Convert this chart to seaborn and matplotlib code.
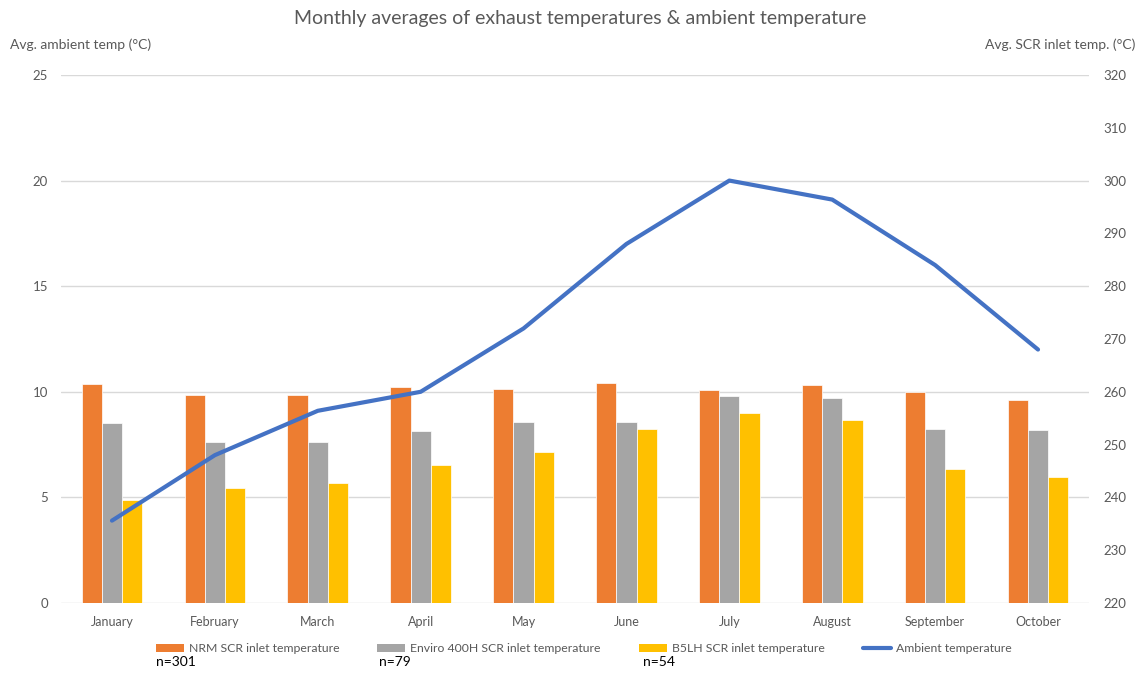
import matplotlib
matplotlib.use("Agg")
import matplotlib.pyplot as plt
import seaborn as sns
import pandas as pd
from matplotlib.patches import Patch
from matplotlib.lines import Line2D
from matplotlib.ticker import MultipleLocator, FormatStrFormatter

months = ["January", "February", "March", "April", "May", "June",
          "July", "August", "September", "October"]
nrm = [261.4, 259.3, 259.3, 261.0, 260.6, 261.6, 260.4, 261.3, 259.9, 258.4]
enviro = [254.0, 250.4, 250.4, 252.6, 254.2, 254.2, 259.2, 258.9, 252.9, 252.8]
b5lh = [239.5, 241.7, 242.7, 246.1, 248.6, 252.9, 255.9, 254.6, 245.3, 243.9]
ambient = [3.9, 7.0, 9.1, 10.0, 13.0, 17.0, 20.0, 19.1, 16.0, 12.0]

series_names = ["NRM SCR inlet temperature", "Enviro 400H SCR inlet temperature",
                "B5LH SCR inlet temperature"]
line_name = "Ambient temperature"
n_labels = ["n=301", "n=79", "n=54"]
colors = ["#ED7D31", "#A5A5A5", "#FFC000"]
line_color = "#4472C4"
text_color = "#595959"

sns.set_theme(style="white")
plt.rcParams["font.family"] = ["Lato", "DejaVu Sans"]

df = pd.DataFrame({
    "month": months * 3,
    "series": [series_names[0]] * 10 + [series_names[1]] * 10 + [series_names[2]] * 10,
    "value": nrm + enviro + b5lh,
})

fig = plt.figure(figsize=(11.42, 6.73), dpi=100)
ax = fig.add_axes([0.053, 0.104, 0.901, 0.7846])

sns.barplot(data=df, x="month", y="value", hue="series", order=months,
            hue_order=series_names, palette=colors, width=0.59, gap=0,
            saturation=1, edgecolor="white", linewidth=0.5, ax=ax, legend=False)
ax.set_xlim(-0.5, 9.5)
ax.set_xlabel("")
ax.set_ylabel("")

ax2 = ax.twinx()
sns.lineplot(x=list(range(len(months))), y=ambient, color=line_color, linewidth=3,
             ax=ax2, legend=False)
ax2.set_ylim(0, 25)
ax2.set_yticks(range(0, 26, 5))
ax2.yaxis.tick_left()
ax2.set_ylabel("")
ax2.set_xlim(-0.5, 9.5)
ax2.tick_params(axis="y", length=0, pad=9, labelsize=9.5, labelcolor=text_color)

# bar axis ticks on the right
ax.set_ylim(220, 320)
ax.yaxis.set_major_locator(MultipleLocator(20))
ax.yaxis.set_minor_locator(MultipleLocator(10))
ax.yaxis.set_major_formatter(FormatStrFormatter("%d"))
ax.yaxis.set_minor_formatter(FormatStrFormatter("%d"))
ax.yaxis.tick_right()
ax.yaxis.set_label_position("right")
ax.tick_params(axis="y", which="both", length=0, pad=10, labelsize=9.5,
               labelcolor=text_color, left=False, labelleft=False,
               right=True, labelright=True)
ax.tick_params(axis="x", length=0, pad=9, labelsize=9, labelcolor=text_color)
ax.grid(axis="y", which="major", color="#D9D9D9", linewidth=1)
ax.grid(axis="y", which="minor", visible=False)
ax.grid(axis="x", visible=False)
ax.set_axisbelow(True)
for a in (ax, ax2):
    for s in a.spines.values():
        s.set_visible(False)

fig.text(0.508, 0.972, "Monthly averages of exhaust temperatures & ambient temperature",
         ha="center", va="center", fontsize=14, color=text_color)
fig.text(0.009, 0.934, "Avg. ambient temp (\u00b0C)", ha="left", va="center",
         fontsize=10, color=text_color)
fig.text(0.994, 0.934, "Avg. SCR inlet temp. (\u00b0C)", ha="right", va="center",
         fontsize=10, color=text_color)

handles = [Patch(facecolor=c, edgecolor="none") for c in colors]
handles.append(Line2D([0], [0], color=line_color, linewidth=3))
leg = fig.legend(handles, series_names + [line_name], loc="center",
                 bbox_to_anchor=(0.511, 0.036), ncol=4, frameon=False,
                 fontsize=8.8, handlelength=2.3, handleheight=0.65,
                 handletextpad=0.4, columnspacing=3.1, labelcolor=text_color)

n_x = [0.1366, 0.332, 0.563]
for x, t in zip(n_x, n_labels):
    fig.text(x, 0.016, t, ha="left", va="center", fontsize=10, color="black")

fig.savefig("out.png", dpi=100)
